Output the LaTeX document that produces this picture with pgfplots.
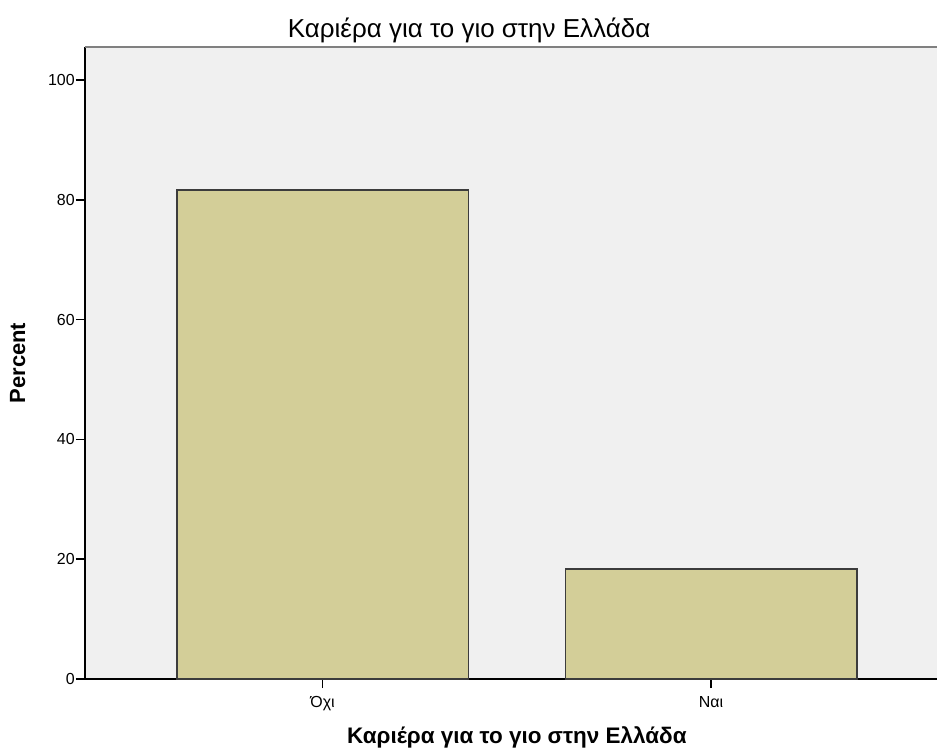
\documentclass[border=0pt]{standalone}
\usepackage{fontspec}
\setmainfont{Liberation Sans}
\usepackage{pgfplots}
\pgfplotsset{compat=1.18}
\definecolor{bgc}{HTML}{F0F0F0}
\definecolor{barc}{HTML}{D3CE98}
\definecolor{edgec}{HTML}{3C3C3C}
\begin{document}
\begin{tikzpicture}
\begin{axis}[
  scale only axis,
  width=853pt, height=633pt,
  xmin=-0.612, xmax=1.581,
  ymin=0, ymax=105.5,
  axis x line*=bottom, axis y line*=left,
  axis line style={black, line width=1.6pt},
  axis background/.style={fill=bgc},
  xtick={0,1}, xticklabels={Όχι, Ναι},
  ytick={0,20,40,60,80,100},
  tick style={black, line width=1.6pt},
  major tick length=9pt,
  tick align=outside,
  xtick pos=bottom, ytick pos=left,
  /pgf/number format/assume math mode=true,
  ticklabel style={font=\fontsize{16}{19}\selectfont},
  yticklabel style={inner sep=1pt},
  xticklabel style={anchor=base, yshift=-19pt},
  ylabel={\textbf{Percent}},
  ylabel style={font=\fontsize{22}{26}\selectfont, at={(axis description cs:-0.0703,0.5)}, anchor=base},
  xlabel={\textbf{Καριέρα για το γιο στην Ελλάδα}},
  xlabel style={font=\fontsize{22.5}{27}\selectfont, at={(axis description cs:0.507,0)}, anchor=base, yshift=-64pt},
  title={Καριέρα για το γιο στην Ελλάδα},
  every axis title shift=0pt,
  title style={font=\fontsize{26}{30}\selectfont, at={(axis description cs:0.451,1)}, anchor=base, yshift=9pt},
  ybar, bar width=0.75,
  bar shift=0pt,
  clip=false,
]
\addplot[fill=barc, draw=edgec, line width=1.6pt] coordinates {(0,81.6) (1,18.4)};
\draw[gray, line width=2.4pt] (rel axis cs:0,1) -- (rel axis cs:1,1);
\end{axis}
\path[use as bounding box] ([shift={(-85pt,-70pt)}]current axis.south west) rectangle ([shift={(0pt,47pt)}]current axis.north east);
\end{tikzpicture}
\end{document}
